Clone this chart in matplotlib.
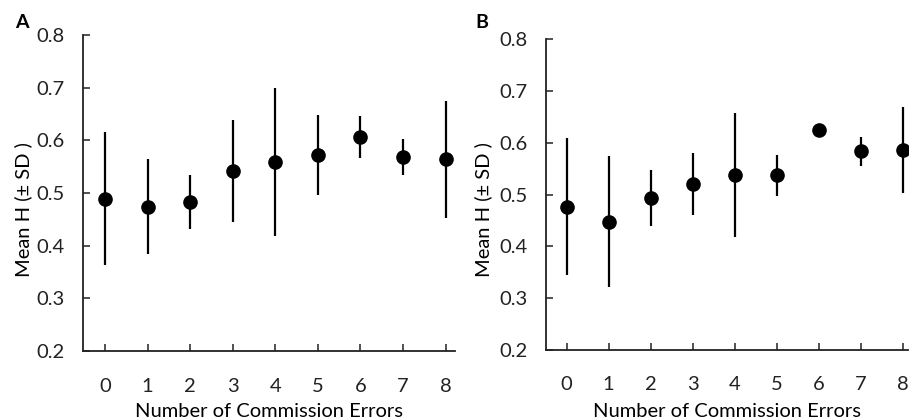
import matplotlib
matplotlib.use("Agg")
import matplotlib.pyplot as plt

plt.rcParams['font.family'] = ['Lato', 'DejaVu Sans']

errors = [0, 1, 2, 3, 4, 5, 6, 7, 8]

mean_a = [0.489, 0.474, 0.483, 0.542, 0.559, 0.572, 0.606, 0.569, 0.564]
sd_a = [0.126, 0.090, 0.052, 0.096, 0.140, 0.076, 0.040, 0.034, 0.111]

mean_b = [0.477, 0.448, 0.493, 0.520, 0.538, 0.537, 0.625, 0.584, 0.586]
sd_b = [0.133, 0.127, 0.054, 0.060, 0.119, 0.040, 0.0, 0.028, 0.083]

yticks = [0.2, 0.3, 0.4, 0.5, 0.6, 0.7, 0.8]

fig = plt.figure(figsize=(9.09, 4.2), dpi=100)
ax_a = fig.add_axes([0.0913, 0.164, 0.4093, 0.7527])
ax_b = fig.add_axes([0.6007, 0.1667, 0.3983, 0.7397])


def panel(ax, means, sds, xlim, letter, lx, ly, ylx, xlpad):
    ax.errorbar(errors, means, yerr=sds, fmt='o', color='black', ms=9.5,
                elinewidth=1.6, capsize=0)
    ax.set_xlim(*xlim)
    ax.set_ylim(0.2, 0.8)
    ax.set_xticks(errors)
    ax.set_yticks(yticks)
    ax.set_yticklabels([f'{v:.1f}' for v in yticks])
    ax.spines['top'].set_visible(False)
    ax.spines['right'].set_visible(False)
    for s in ('left', 'bottom'):
        ax.spines[s].set_linewidth(1.3)
        ax.spines[s].set_color('#222222')
    ax.tick_params(axis='both', direction='in', length=5, width=1.1,
                   labelsize=14.5, colors='#222222')
    ax.tick_params(axis='y', pad=13)
    ax.tick_params(axis='x', pad=19)
    ax.set_xlabel('Number of Commission Errors', fontsize=14.5, labelpad=xlpad)
    ax.set_ylabel('Mean H (± SD )', fontsize=14.5)
    ax.yaxis.set_label_coords(ylx, 0.5, transform=fig.transFigure)
    fig.text(lx, ly, letter, fontsize=14, fontweight='bold', ha='center', va='center')


panel(ax_a, mean_a, sd_a, (-0.516, 8.22), 'A', 0.0237, 1 - 22 / 420, 32 / 909, 6)
panel(ax_b, mean_b, sd_b, (-0.49, 8.13), 'B', 0.5297, 1 - 23 / 420, 492 / 909, 7)

fig.savefig('out.png', dpi=100)
